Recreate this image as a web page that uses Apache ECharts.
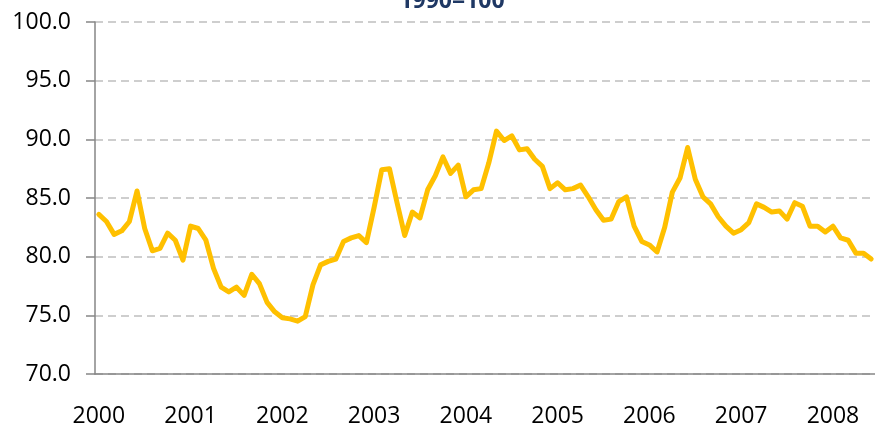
<!DOCTYPE html>
<html>
<head>
<meta charset="utf-8">
<script src="https://cdn.jsdelivr.net/npm/echarts@6/dist/echarts.min.js"></script>
<style>
  html, body { margin: 0; padding: 0; background: #fff; }
  #chart { width: 875px; height: 428px; }
</style>
</head>
<body>
<div id="chart"></div>
<script>
// monthly index, Jan 2000 - Jun 2008
const years = ['2000', '2001', '2002', '2003', '2004', '2005', '2006', '2007', '2008'];
const monthsIn2008 = 6;

const values2000 = [83.6, 83.0, 81.9, 82.2, 83.0, 85.6, 82.4, 80.5, 80.7, 82.0, 81.4, 79.7];
const values2001 = [82.6, 82.4, 81.4, 79.0, 77.4, 77.0, 77.4, 76.7, 78.5, 77.7, 76.1, 75.3];
const values2002 = [74.8, 74.7, 74.5, 74.9, 77.6, 79.3, 79.6, 79.8, 81.3, 81.6, 81.8, 81.2];
const values2003 = [84.2, 87.4, 87.5, 84.6, 81.8, 83.8, 83.3, 85.7, 86.9, 88.5, 87.1, 87.8];
const values2004 = [85.1, 85.7, 85.8, 88.0, 90.7, 89.9, 90.3, 89.1, 89.2, 88.3, 87.7, 85.8];
const values2005 = [86.3, 85.7, 85.8, 86.1, 85.1, 84.0, 83.1, 83.2, 84.7, 85.1, 82.6, 81.3];
const values2006 = [81.0, 80.4, 82.5, 85.5, 86.7, 89.3, 86.6, 85.1, 84.5, 83.4, 82.6, 82.0];
const values2007 = [82.3, 82.9, 84.5, 84.2, 83.8, 83.9, 83.2, 84.6, 84.3, 82.6, 82.6, 82.1];
const values2008 = [82.6, 81.6, 81.4, 80.3, 80.3, 79.8];

const yTicks = [70, 75, 80, 85, 90, 95, 100];

const values = [].concat(values2000, values2001, values2002, values2003,
  values2004, values2005, values2006, values2007, values2008);

// category per month, e.g. "2003-04"
const months = [];
years.forEach(function (y, i) {
  const n = i === years.length - 1 ? monthsIn2008 : 12;
  for (let m = 1; m <= n; m++) {
    months.push(y + '-' + (m < 10 ? '0' + m : m));
  }
});

const font = 'Open Sans';
const chart = echarts.init(document.getElementById('chart'));
chart.setOption({
  animation: false,
  title: {
    text: '1990=100',
    left: 447,
    textAlign: 'center',
    top: -15,
    textStyle: { fontFamily: font, fontSize: 23, fontWeight: 'bold', color: '#1f3864' }
  },
  grid: { left: 95, right: -3, top: 22, bottom: 54 },
  xAxis: {
    type: 'category',
    data: months,
    boundaryGap: true,
    axisLine: { lineStyle: { color: '#868686', width: 1.5 } },
    axisTick: { interval: 11, length: 8, lineStyle: { color: '#868686', width: 1.5 } },
    axisLabel: {
      interval: 11,
      margin: 31,
      fontFamily: font,
      fontSize: 23,
      color: '#000',
      formatter: function (v) { return v.slice(0, 4); }
    },
    splitLine: { show: false }
  },
  yAxis: {
    type: 'value',
    min: yTicks[0],
    max: yTicks[yTicks.length - 1],
    interval: 5,
    axisLine: { show: true, lineStyle: { color: '#868686', width: 1.5 } },
    axisTick: { show: true, length: 9, lineStyle: { color: '#868686', width: 1.5 } },
    axisLabel: {
      margin: 24,
      fontFamily: font,
      fontSize: 23,
      color: '#000',
      formatter: function (v) { return v.toFixed(1); }
    },
    splitLine: { lineStyle: { color: '#bfbfbf', width: 1.5, type: [8, 5] } }
  },
  series: [{
    type: 'line',
    data: values,
    showSymbol: false,
    lineStyle: { color: '#ffc000', width: 5, join: 'round', cap: 'round' }
  }]
});
</script>
</body>
</html>
